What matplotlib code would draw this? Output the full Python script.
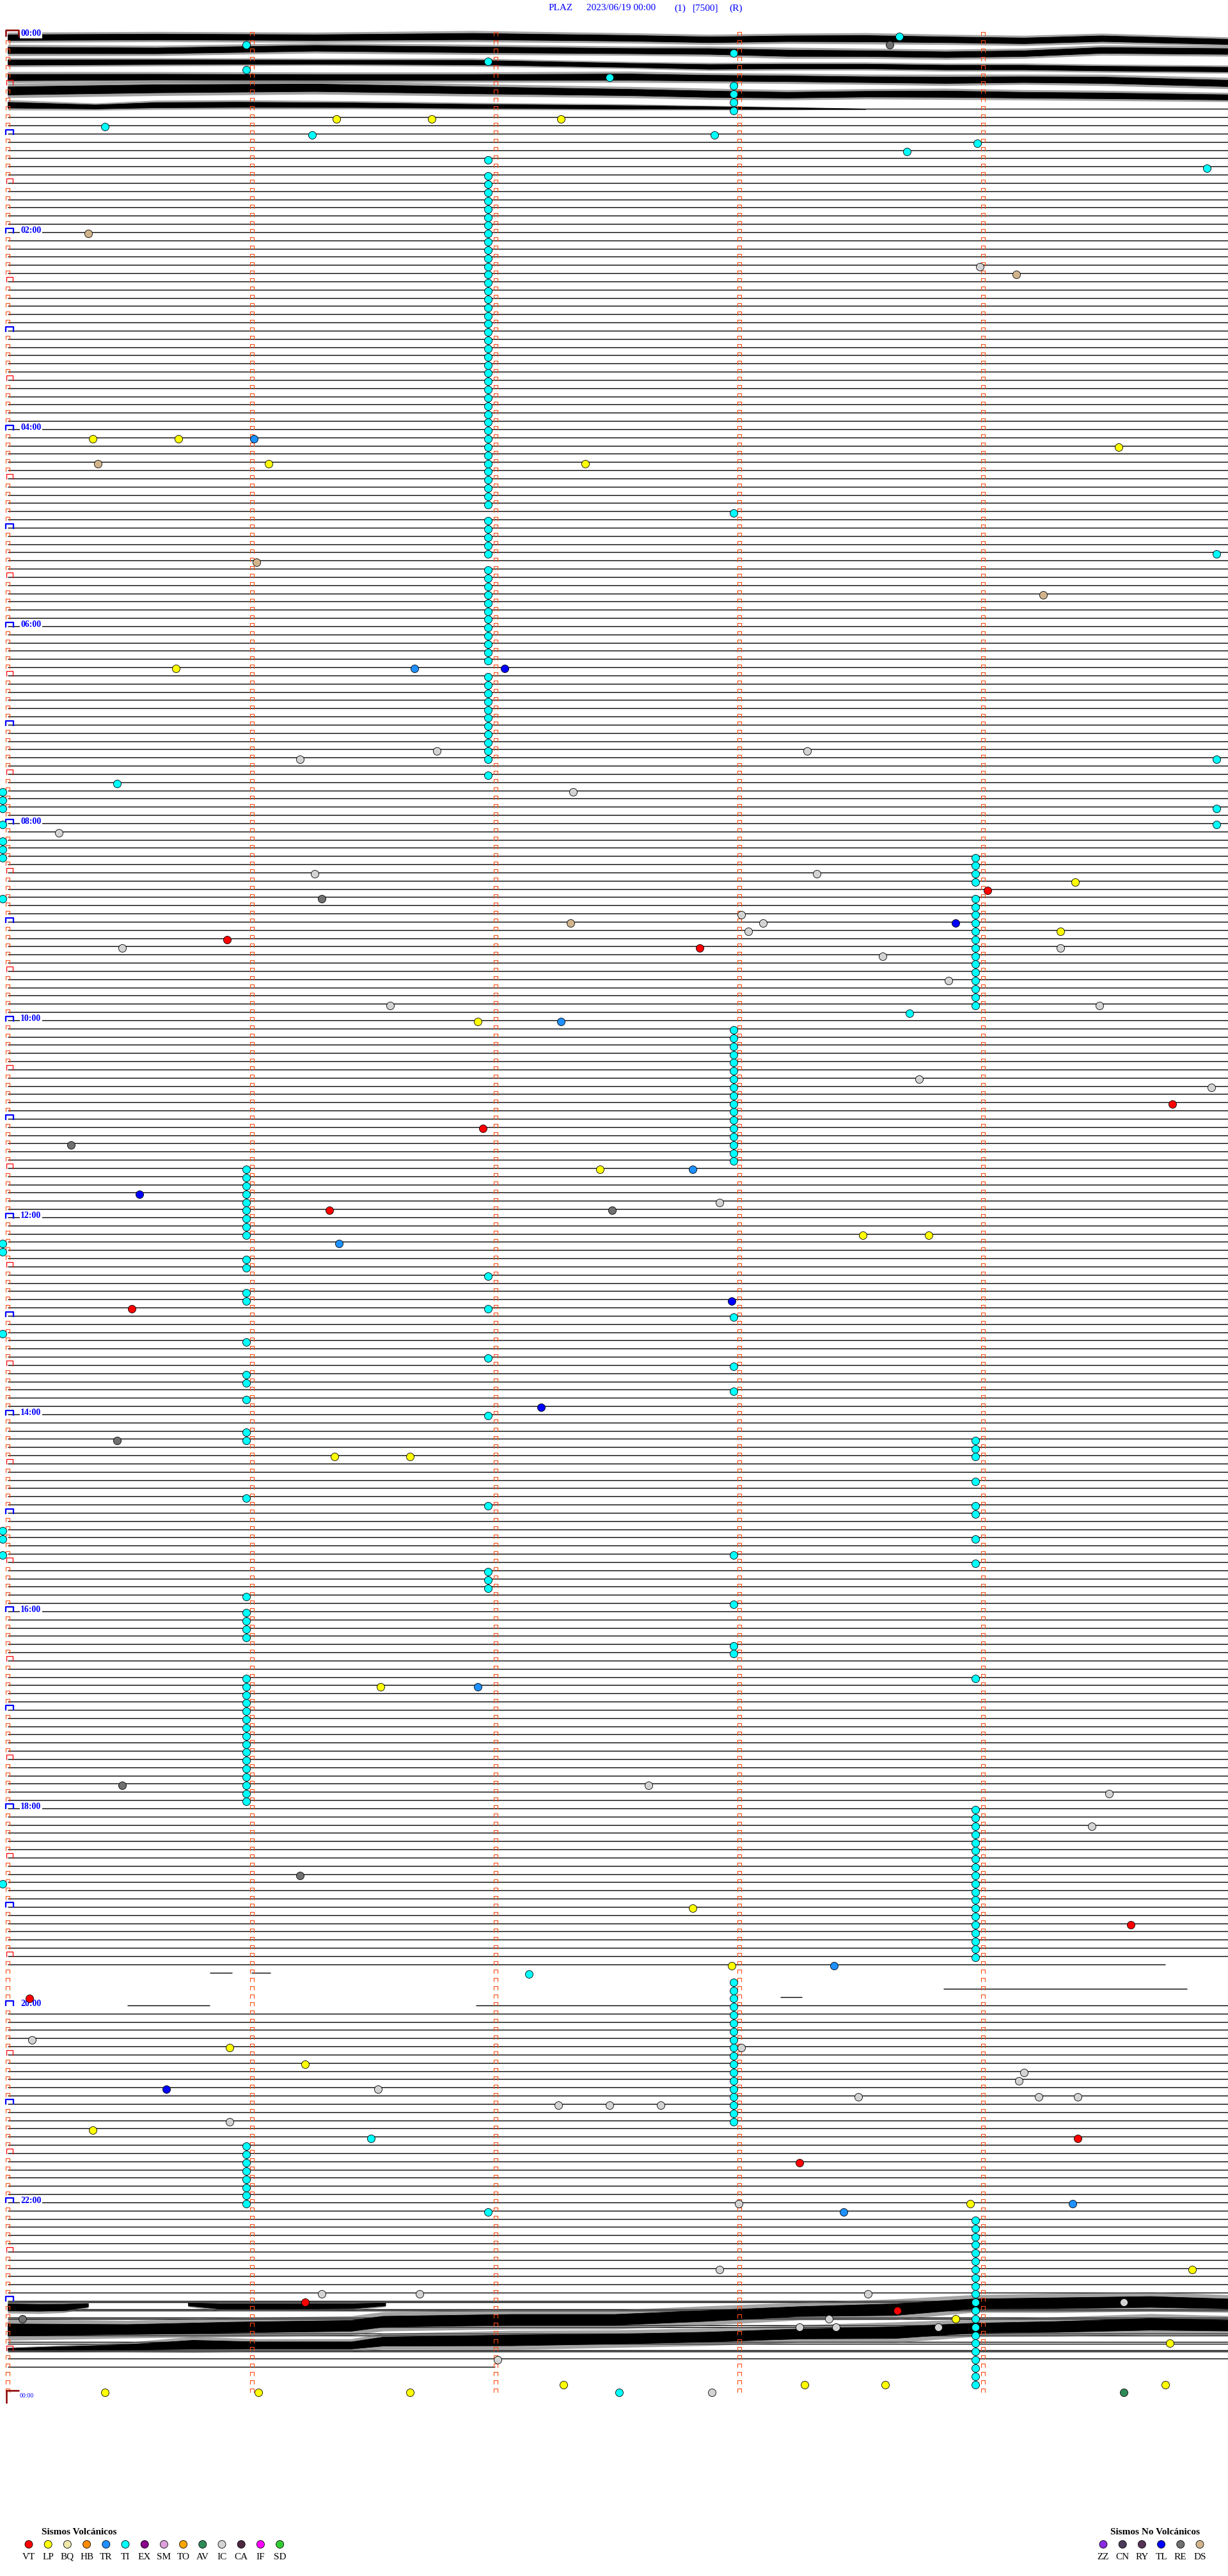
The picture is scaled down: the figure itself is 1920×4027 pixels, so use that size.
import matplotlib
matplotlib.use("Agg")
import matplotlib.pyplot as plt
from matplotlib.path import Path

# ---------------- layout constants (pixels) ----------------
W, H, DPI = 1920, 4027, 100
X0, PX_MIN = 12.0, 381.0      # pixel of minute 0, pixels per minute
Y0, PX_ROW = 55.0, 12.833     # pixel of row 0, pixels per 5-min row
SERIF = ['Liberation Serif', 'DejaVu Serif']

# ---------------- data ----------------
title_parts = ["PLAZ", "2023/06/19 00:00", "(1)", "[7500]", "(R)"]
hour_labels = ["00:00", "02:00", "04:00", "06:00", "08:00", "10:00",
               "12:00", "14:00", "16:00", "18:00", "20:00", "22:00"]

# events: row index (5-minute rows) and minute inside the row
vt_rows = [104, 110, 111, 130, 133, 143, 155, 230, 239, 256, 259, 276, 277]
vt_min = [4.02, 0.90, 2.84, 4.78, 1.95, 1.32, 0.51, 4.61, 0.09, 4.39, 3.25, 1.22, 3.65]

lp_rows = [10, 10, 10, 49, 49, 50, 52, 52, 77, 103, 109, 120, 138, 146, 146, 173, 173,
           201, 228, 235, 245, 247, 255, 264, 272, 278, 281, 286, 286, 286, 286, 287, 287, 287]
lp_min = [1.35, 1.74, 2.27, 0.35, 0.70, 4.56, 1.07, 2.37, 0.69, 4.38, 4.32, 1.93, 2.43, 3.51, 3.78,
          1.34, 1.65, 1.53, 2.81, 2.97, 0.91, 1.22, 0.35, 3.95, 4.86, 3.89, 4.77, 2.28, 3.27, 3.60,
          4.75, 0.40, 1.03, 1.65]

tr_rows = [49, 77, 120, 138, 147, 201, 235, 264, 265]
tr_min = [1.01, 1.67, 2.27, 2.81, 1.36, 1.93, 3.39, 4.37, 3.43]

tl_rows = [77, 108, 141, 154, 167, 250]
tl_min = [2.04, 3.89, 0.54, 2.97, 2.19, 0.65]

ic_rows = [28, 87, 87, 88, 92, 97, 102, 102, 107, 108, 109, 111, 111, 112, 115, 118, 118, 127,
           128, 142, 213, 214, 218, 244, 245, 248, 249, 250, 251, 251, 251, 252, 252, 252, 254,
           264, 272, 275, 275, 275, 276, 278, 279, 279, 279, 283, 287]
ic_min = [3.99, 1.76, 3.28, 1.20, 2.32, 0.21, 1.26, 3.32, 3.01, 3.10, 3.04, 4.32, 0.47, 3.59,
          3.86, 1.57, 4.48, 3.74, 4.94, 2.92, 2.63, 4.52, 4.45, 0.10, 3.01, 4.17, 4.15, 1.52,
          3.49, 4.23, 4.39, 2.26, 2.47, 2.68, 0.91, 3.00, 2.92, 1.29, 1.69, 3.53, 4.58, 3.37,
          3.25, 3.40, 3.82, 2.01, 2.89]

re_rows = [1, 105, 135, 143, 171, 213, 224, 278]
re_min = [3.62, 1.29, 0.26, 2.48, 0.45, 0.47, 1.20, 0.06]

ds_rows = [24, 29, 52, 64, 68, 108]
ds_min = [0.33, 4.14, 0.37, 1.02, 4.25, 2.31]

av_rows = [287]
av_min = [4.58]

# TI events: several vertical chains at nearly the same minute, plus isolated ones
ti_chain_a_min = 1.97
ti_chain_a_rows = [3, 15, 17, 18, 19, 20, 21, 22, 23, 24, 25, 26, 27, 28, 29, 30, 31, 32, 33, 34,
                   35, 36, 37, 38, 39, 40, 41, 42, 43, 44, 45, 46, 47, 48, 49, 50, 51, 52, 53, 54,
                   55, 56, 57, 59, 60, 61, 62, 63, 65, 66, 67, 68, 69, 70, 71, 72, 73, 74, 75, 76,
                   78, 79, 80, 81, 82, 83, 84, 85, 86, 87, 88, 90, 151, 155, 161, 168, 179, 187,
                   188, 189, 265]
ti_chain_b_min = 3.97
ti_chain_b_rows = [100, 101, 102, 103, 105, 106, 107, 108, 109, 110, 111, 112, 113, 114, 115, 116,
                   117, 118, 171, 172, 173, 176, 179, 180, 183, 186, 200, 216, 217, 218, 219, 220,
                   221, 222, 223, 224, 225, 226, 227, 228, 229, 230, 231, 232, 233, 234, 266, 267,
                   268, 269, 270, 271, 272, 273, 274, 275, 276, 277, 278, 279, 280, 281, 282, 283,
                   284, 285, 286]
ti_chain_c_min = 2.98
ti_chain_c_rows = [2, 6, 7, 8, 9, 58, 121, 122, 123, 124, 125, 126, 127, 128, 129, 130, 131, 132,
                   133, 134, 135, 136, 137, 156, 162, 165, 185, 191, 196, 197, 237, 238, 239, 240,
                   241, 242, 243, 244, 245, 246, 247, 248, 249, 250, 251, 252, 253, 254]
ti_chain_d_min = 0.98
ti_chain_d_rows = [1, 4, 138, 139, 140, 141, 142, 143, 144, 145, 146, 149, 150, 153, 154, 159, 163,
                   164, 166, 170, 171, 178, 190, 192, 193, 194, 195, 200, 201, 202, 203, 204, 205,
                   206, 207, 208, 209, 210, 211, 212, 213, 214, 215, 257, 258, 259, 260, 261, 262,
                   263, 264]
ti_left_min = -0.02
ti_left_rows = [92, 93, 94, 96, 98, 99, 100, 105, 147, 148, 158, 182, 183, 185, 225]
ti_right_min = 4.96
ti_right_rows = [63, 88, 94, 96]
ti_rows = [0, 5, 11, 12, 12, 13, 14, 16, 91, 119, 236, 256, 287]
ti_min = [3.66, 2.47, 0.40, 1.25, 2.90, 3.98, 3.69, 4.92, 0.45, 3.70, 2.14, 1.49, 2.51]

# seismic trace envelopes (minute positions, row-unit centre, row-unit half width)
top_x = [0.0, 0.61, 1.26, 1.91, 2.55, 2.88, 3.20, 3.52, 3.85, 4.17, 4.49, 5.01]
trace0_c = [0.26, 0.18, 0.26, 0.13, 0.34, 0.52, 0.39, 0.39, 0.52, 0.65, 0.39, 0.78]
trace0_h = [0.50, 0.50, 0.50, 0.55, 0.50, 0.50, 0.50, 0.55, 0.50, 0.50, 0.50, 0.45]
trace1_c = [1.82, 1.87, 1.56, 1.74, 1.90, 1.95, 2.16, 2.21, 2.34, 2.21, 1.82, 1.95]
trace1_h = [0.55, 0.50, 0.50, 0.50, 0.45, 0.50, 0.55, 0.50, 0.50, 0.50, 0.50, 0.50]
trace2_c = [3.30, 3.25, 3.25, 3.30, 3.64, 3.82, 3.77, 3.77, 3.90, 3.90, 4.03, 4.15]
trace2_h = [0.45, 0.40, 0.35, 0.40, 0.35, 0.40, 0.40, 0.40, 0.40, 0.40, 0.40, 0.40]
trace3_c = [5.12, 5.07, 5.12, 5.12, 5.07, 5.20, 5.27, 5.38, 5.45, 5.38, 5.45, 5.84]
trace3_h = [0.55, 0.50, 0.50, 0.50, 0.55, 0.50, 0.50, 0.50, 0.55, 0.50, 0.55, 0.55]
trace4_c = [6.75, 6.49, 6.37, 6.68, 6.94, 7.15, 7.27, 7.15, 7.15, 7.27, 7.35, 7.54]
trace4_h = [0.70, 0.70, 0.65, 0.60, 0.55, 0.55, 0.50, 0.50, 0.55, 0.50, 0.50, 0.45]
trace5_x = [0.0, 0.36, 0.61, 0.94, 1.42, 1.91, 2.55, 3.20, 3.52]
trace5_c = [8.49, 8.70, 8.49, 8.44, 8.49, 8.63, 8.75, 8.91, 8.98]
trace5_h = [0.50, 0.35, 0.45, 0.45, 0.40, 0.35, 0.30, 0.15, 0.05]

bot_a1_x = [0.0, 0.13, 0.23, 0.33]
bot_a1_c = [276.75, 276.80, 276.75, 276.50]
bot_a1_h = [0.60, 0.60, 0.55, 0.30]
bot_a2_x = [0.74, 0.87, 1.15, 1.42, 1.55]
bot_a2_c = [276.40, 276.63, 276.63, 276.60, 276.40]
bot_a2_h = [0.25, 0.47, 0.47, 0.43, 0.25]
bot_b_x = [0.0, 0.49, 0.94, 1.41, 1.54, 2.07, 2.49, 2.86, 3.25, 3.64, 3.96, 4.30, 4.69, 5.01]
bot_b_c = [279.50, 279.45, 279.20, 279.00, 278.50, 278.27, 278.27, 277.80, 277.26, 277.03,
           276.33, 276.25, 276.09, 276.33]
bot_b_h = [1.05, 0.86, 0.94, 0.94, 0.94, 0.94, 0.94, 0.94, 0.86, 1.01, 0.86, 0.94, 0.94, 0.86]
bot_c_x = [0.0, 0.49, 0.76, 1.02, 1.41, 1.54, 2.07, 2.49, 2.86, 3.25, 3.64, 3.96, 4.30, 4.69, 5.01]
bot_c_c = [281.86, 281.62, 281.31, 281.39, 281.39, 280.92, 280.77, 280.61, 280.38, 279.99,
           279.83, 279.29, 279.13, 278.82, 278.97]
bot_c_h = [0.16, 0.47, 0.78, 0.62, 0.62, 0.78, 0.94, 0.86, 0.86, 0.86, 1.01, 0.86, 0.94, 1.01, 0.94]

# baseline segments (row, start minute, end minute)
full_line_rows_a = (10, 234)      # first/last rows with full-width baseline
full_line_rows_b = (241, 283)
seg_rows = [9, 235, 236, 236, 238, 239, 240, 240, 284]
seg_start = [3.52, 0.0, 0.83, 1.00, 3.84, 3.17, 0.49, 1.92, 0.0]
seg_end = [5.01, 4.75, 0.92, 1.08, 4.84, 3.26, 0.83, 5.01, 2.00]
double_line_rows = [276, 277, 278, 279, 280, 281, 282]

volc_codes = ["VT", "LP", "BQ", "HB", "TR", "TI", "EX", "SM", "TO", "AV", "IC", "CA", "IF", "SD"]
volc_colors = ["#FF0000", "#FFFF00", "#EEE8AA", "#FF8C00", "#1E90FF", "#00FFFF", "#8B008B",
               "#DDA0DD", "#FFA500", "#2E8B57", "#D3D3D3", "#4B2840", "#FF00FF", "#32CD32"]
nonv_codes = ["ZZ", "CN", "RY", "TL", "RE", "DS"]
nonv_colors = ["#8A2BE2", "#4B3A5A", "#553355", "#0000FF", "#707070", "#D2B48C"]
col = dict(zip(volc_codes + nonv_codes, volc_colors + nonv_colors))

# ---------------- figure ----------------
fig = plt.figure(figsize=(W / DPI, H / DPI), dpi=DPI)
ax = fig.add_axes([0, 0, 1, 1])
ax.set_xlim(-X0 / PX_MIN, (W - X0) / PX_MIN)
ax.set_ylim((H - Y0) / PX_ROW, -Y0 / PX_ROW)
ax.axis('off')

LW = 1.0
# baselines
for r0, r1 in (full_line_rows_a, full_line_rows_b):
    for r in range(r0, r1 + 1):
        ax.plot([0, 5.01], [r, r], color='black', lw=LW, zorder=1, solid_capstyle='butt')
for r, s, e in zip(seg_rows, seg_start, seg_end):
    ax.plot([s, e], [r, r], color='black', lw=LW, zorder=1, solid_capstyle='butt')
for r in double_line_rows:
    ax.plot([0, 5.01], [r + 0.2, r + 0.2], color='black', lw=LW, zorder=1, solid_capstyle='butt')

# noisy traces: dense core plus a lighter fringe of spikes
def band(x, c, h):
    ax.fill_between(x, [a - 1.25 * b for a, b in zip(c, h)], [a + 1.25 * b for a, b in zip(c, h)],
                    color='#5a5a5a', alpha=0.55, lw=0, zorder=2)
    ax.fill_between(x, [a - 0.7 * b for a, b in zip(c, h)], [a + 0.7 * b for a, b in zip(c, h)],
                    color='black', lw=0.6, zorder=2)

for c, h in ((trace0_c, trace0_h), (trace1_c, trace1_h), (trace2_c, trace2_h),
             (trace3_c, trace3_h), (trace4_c, trace4_h)):
    band(top_x, c, h)
band(trace5_x, trace5_c, trace5_h)
band(bot_a1_x, bot_a1_c, bot_a1_h)
band(bot_a2_x, bot_a2_c, bot_a2_h)
band(bot_b_x, bot_b_c, bot_b_h)
band(bot_c_x, bot_c_c, bot_c_h)

# row markers
def cap(hw, hh):
    return Path([(-hw, -hh), (-hw, hh), (hw, hh), (hw, -hh)],
                [Path.MOVETO, Path.LINETO, Path.LINETO, Path.LINETO])

small = cap(1, 1)
orange = '#FF4A10'
rows_small = [r for r in range(1, 288) if r % 6 != 0]
ax.plot([0.0013] * len(rows_small), [r - 0.12 for r in rows_small], ls='none', marker=small,
        ms=3.7, mew=0.8, mfc='none', mec=orange, zorder=3)
for m in (1, 2, 3, 4):
    rr = list(range(0, 288))
    ax.plot([m + 0.003] * len(rr), [r - 0.12 for r in rr], ls='none', marker=small,
            ms=3.7, mew=0.8, mfc='none', mec=orange, zorder=3)
hour_rows = list(range(12, 288, 12))
ax.plot([0.008] * len(hour_rows), [r - 0.19 for r in hour_rows], ls='none', marker=cap(1, 0.7),
        ms=8.6, mew=1.6, mfc='none', mec='#0000FF', zorder=3)
half_rows = list(range(6, 288, 12))
ax.plot([0.007] * len(half_rows), [r - 0.22 for r in half_rows], ls='none', marker=cap(1, 0.9),
        ms=6.5, mew=0.9, mfc='none', mec='#FF0000', zorder=3)
ax.plot([0.018], [-0.22], ls='none', marker=cap(1, 0.5), ms=14.4, mew=1.8, mfc='none',
        mec='#8B0000', zorder=3)
ax.plot([0.02], [287.7], ls='none',
        marker=Path([(-1, -1), (-1, 1), (1, 1)], [Path.MOVETO, Path.LINETO, Path.LINETO]),
        ms=14.4, mew=1.8, mfc='none', mec='#8B0000', zorder=3)

# hour labels
for i, lab in enumerate(hour_labels):
    ax.text(0.053, 24 * i - 0.22, lab, ha='left', va='center', color='#0000FF',
            fontsize=10, fontweight='bold', family=SERIF, zorder=4,
            bbox=dict(facecolor='white', edgecolor='none', pad=1.0))
ax.text(0.05, 287.55, "00:00", ha='left', va='center', color='#0000FF', fontsize=7,
        family=SERIF, zorder=4)

# events
S, EW, DY = 75, 0.6, 0.18
def events(rows, mins, code):
    ax.scatter(mins, [r + DY for r in rows], s=S, c=col[code], edgecolors='black',
               linewidths=EW, zorder=6, clip_on=False)

for m, rows in ((ti_chain_a_min, ti_chain_a_rows), (ti_chain_b_min, ti_chain_b_rows),
                (ti_chain_c_min, ti_chain_c_rows), (ti_chain_d_min, ti_chain_d_rows),
                (ti_left_min, ti_left_rows), (ti_right_min, ti_right_rows)):
    events(rows, [m] * len(rows), "TI")
events(ti_rows, ti_min, "TI")
events(vt_rows, vt_min, "VT")
events(lp_rows, lp_min, "LP")
events(tr_rows, tr_min, "TR")
events(tl_rows, tl_min, "TL")
events(ic_rows, ic_min, "IC")
events(re_rows, re_min, "RE")
events(ds_rows, ds_min, "DS")
events(av_rows, av_min, "AV")

# ---------------- title and legends (pixel overlay) ----------------
lax = fig.add_axes([0, 0, 1, 1], facecolor='none')
lax.set_xlim(0, W)
lax.set_ylim(H, 0)
lax.axis('off')

for txt, x in zip(title_parts, [858, 917, 1054, 1083, 1140]):
    lax.text(x, 13, txt, ha='left', va='center', color='#0000FF', fontsize=11, family=SERIF)

lax.text(124, 3958, "Sismos Volcánicos", ha='center', va='center', fontsize=11,
         fontweight='bold', family=SERIF)
vx = [45 + 30.2 * i for i in range(len(volc_codes))]
lax.scatter(vx, [3977.5] * len(vx), s=S, c=volc_colors, edgecolors='black', linewidths=EW)
for x, code in zip(vx, volc_codes):
    lax.text(x, 3997, code, ha='center', va='center', fontsize=11, family=SERIF)

lax.text(1806, 3958, "Sismos No Volcánicos", ha='center', va='center', fontsize=11,
         fontweight='bold', family=SERIF)
nx = [1725 + 30.2 * i for i in range(len(nonv_codes))]
lax.scatter(nx, [3977.5] * len(nx), s=S, c=nonv_colors, edgecolors='black', linewidths=EW)
for x, code in zip(nx, nonv_codes):
    lax.text(x, 3997, code, ha='center', va='center', fontsize=11, family=SERIF)

fig.savefig("out.png", dpi=DPI, facecolor='white')
